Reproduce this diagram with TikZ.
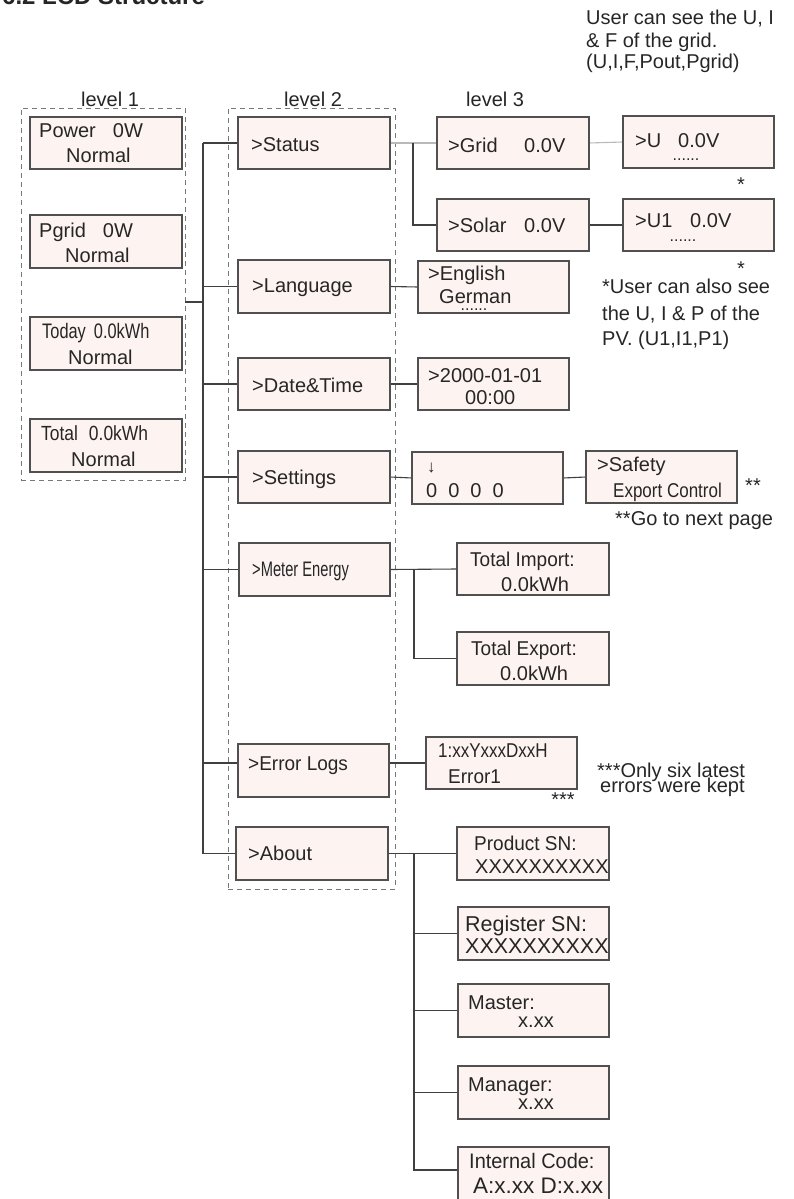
\documentclass[tikz,border=0pt]{standalone}
\usepackage{fontspec}
\setmainfont{Liberation Sans}
\newfontfamily\condA[FakeStretch=0.85]{Liberation Sans}
\newfontfamily\condB[FakeStretch=0.70]{Liberation Sans}
\newfontfamily\condC[FakeStretch=0.95]{Liberation Sans}
\newfontfamily\condD[FakeStretch=0.78]{Liberation Sans}
\newcommand\myfs[1]{\fontsize{#1}{#1}\selectfont}
\definecolor{boxfill}{RGB}{253,244,241}
\definecolor{boxline}{RGB}{80,80,80}
\definecolor{connc}{RGB}{64,64,64}
\definecolor{connl}{RGB}{185,185,185}
\definecolor{dashc}{RGB}{120,120,120}
\definecolor{txtc}{RGB}{38,38,38}
\begin{document}
\begin{tikzpicture}[x=1pt,y=-1pt,
  box/.style={draw=boxline,fill=boxfill,line width=1.3pt,inner sep=0pt,outer sep=0pt,anchor=north west,minimum width=152pt,minimum height=52pt},
  lvbox/.style={draw=dashc,line width=0.9pt,dash pattern=on 5pt off 4pt,inner sep=0pt,outer sep=0pt,anchor=north west},
  conn/.style={draw=connc,line width=1.1pt},
  connlight/.style={draw=connl,line width=1.1pt},
  txt/.style={anchor=base west,inner sep=0pt,text=txtc,font=\myfs{20}},
  ctxt/.style={anchor=base,inner sep=0pt,text=txtc,font=\myfs{20}}]
\useasboundingbox (0,0) rectangle (793,1199);
\clip (0,0) rectangle (793,1199);

% title
\node[txt,font=\bfseries\myfs{24}] (title) at (2,5) {6.2 LCD Structure};

% level frames
\node[lvbox,minimum width=164pt,minimum height=372pt] (lv1) at (21,108) {};
\node[lvbox,minimum width=167pt,minimum height=781pt] (lv2) at (228,108) {};
\node[ctxt] (lab1) at (110,106) {level 1};
\node[ctxt] (lab2) at (313,106) {level 2};
\node[txt] (lab3) at (466,106) {level 3};

% level 1 boxes
\node[box] (power) at (30,117) {};
\node[box,minimum height=53pt] (pgrid) at (30,215) {};
\node[box,minimum height=53pt] (today) at (30,317) {};
\node[box,minimum height=53pt] (total) at (30,419) {};

% level 2 boxes
\node[box] (status) at (238,117) {};
\node[box,minimum height=53pt] (language) at (238,260) {};
\node[box] (datetime) at (238,358) {};
\node[box] (settings) at (238,451) {};
\node[box,minimum width=151pt,minimum height=53pt] (meter) at (239,543) {};
\node[box,minimum width=151pt,minimum height=53pt] (errlogs) at (238,744) {};
\node[box,minimum height=53pt] (about) at (236,827) {};

% level 3 boxes
\node[box] (grid) at (437,117) {};
\node[box] (solar) at (437,199) {};
\node[box,minimum width=151pt] (ubox) at (623,116) {};
\node[box,minimum width=151pt] (uonebox) at (623,199) {};
\node[box,minimum width=151pt] (english) at (418,261) {};
\node[box,minimum width=151pt] (datebox) at (418,358) {};
\node[box,minimum width=151pt] (pinbox) at (412,452) {};
\node[box,minimum width=151pt] (safety) at (586,451) {};
\node[box] (timport) at (457,543) {};
\node[box,minimum height=53pt] (texport) at (457,632) {};
\node[box,minimum width=151pt] (errbox) at (426,737) {};
\node[box,minimum height=53pt] (prodsn) at (457,827) {};
\node[box,minimum width=151pt,minimum height=53pt] (regsn) at (458,907) {};
\node[box,minimum width=151pt,minimum height=53pt] (master) at (458,984) {};
\node[box,minimum width=151pt,minimum height=53pt] (manager) at (458,1066) {};
\node[box,minimum width=151pt,minimum height=60pt] (intcode) at (458,1147) {};

% connectors
\coordinate (tr) at (203,0);
\coordinate (lonej) at (203,302);
\draw[conn] (lv1.east |- lonej) -- (lonej);
\draw[conn] (tr |- status.west) -- (tr |- about.west);
\draw[conn] (tr |- status.west) -- (status.west);
\draw[conn] (tr |- language.west) -- (language.west);
\draw[conn] (tr |- datetime.west) -- (datetime.west);
\draw[conn] (tr |- settings.west) -- (settings.west);
\draw[conn] (tr |- meter.west) -- (meter.west);
\draw[conn] (tr |- errbox.west) -- (errbox.west -| errlogs.west);
\draw[conn] (tr |- about.west) -- (about.west);

\coordinate (bone) at (413,0);
\coordinate (btwo) at (414,0);
\draw[connlight] (status.east) -- (grid.west);
\draw[conn] (bone |- grid.west) |- (solar.west);
\draw[connlight] (grid.east) -- (ubox.west);
\draw[conn] (solar.east) -- (uonebox.west);
\draw[conn] (language.east) -- (english.west);
\draw[conn] (datetime.east) -- (datebox.west);
\draw[conn] (settings.east) -- (pinbox.west);
\draw[conn] (pinbox.east) -- (safety.west);
\draw[conn] (meter.east) -- (timport.west);
\draw[conn] (btwo |- timport.west) |- (texport.west);
\draw[conn] (errbox.west -| errlogs.east) -- (errbox.west);
\draw[conn] (about.east) -- (prodsn.west);
\draw[conn] (btwo |- prodsn.west) |- ([yshift=7pt]intcode.west);
\draw[conn] (btwo |- regsn.west) -- (regsn.west);
\draw[conn] (btwo |- master.west) -- (master.west);
\draw[conn] (btwo |- manager.west) -- (manager.west);

% redraw box outlines over connector ends
\foreach \b in {power,pgrid,today,total,status,language,datetime,settings,meter,errlogs,about,grid,solar,ubox,uonebox,english,datebox,pinbox,safety,timport,texport,errbox,prodsn,regsn,master,manager,intcode}
  \draw[boxline,line width=1.3pt] (\b.north west) rectangle (\b.south east);

% level 1 texts
\node[txt] (tpw) at (39,137) {Power\hspace{17pt}0W};
\node[txt] (tpwn) at (66,162) {Normal};
\node[txt] (tpg) at (39,237) {Pgrid\hspace{17pt}0W};
\node[txt] (tpgn) at (65,262) {Normal};
\node[txt,font=\condD\myfs{21}] (ttd) at (42,338) {Today\hspace{8pt}0.0kWh};
\node[txt] (ttdn) at (68,364) {Normal};
\node[txt,font=\condA\myfs{20.5}] (ttt) at (41,440) {Total\hspace{11pt}0.0kWh};
\node[txt] (tttn) at (71,466) {Normal};

% level 2 texts
\node[txt] (tst) at (251,151) {>Status};
\node[txt] (tla) at (252,292) {>Language};
\node[txt] (tdt) at (252,392) {>Date\&Time};
\node[txt] (tse) at (252,484) {>Settings};
\node[txt,font=\condB\myfs{21}] (tme) at (252,576) {>Meter Energy};
\node[txt,font=\condC\myfs{20}] (ter) at (248,770) {>Error Logs};
\node[txt] (tab) at (248,860) {>About};

% level 3 texts
\node[txt] (tgr) at (448,152) {>Grid};
\node[txt] (tgrv) at (524,152) {0.0V};
\node[txt] (tso) at (448,232) {>Solar};
\node[txt] (tsov) at (524,232) {0.0V};
\node[txt] (tu) at (635,147) {>U};
\node[txt] (tuv) at (678,147) {0.0V};
\node[ctxt,font=\myfs{16}] (tud) at (686,160) {......};
\node[txt] (tuo) at (635,227) {>U1};
\node[txt] (tuov) at (690,227) {0.0V};
\node[ctxt,font=\myfs{16}] (tuod) at (683,241) {......};
\node[ctxt] (star1) at (741,191) {*};
\node[ctxt] (star2) at (741,275) {*};

\node[txt] (nt1) at (586,25) {User can see the U, I};
\node[txt] (nt2) at (586,48) {\& F of the grid.};
\node[txt] (nt3) at (586,68) {(U,I,F,Pout,Pgrid)};

\node[txt] (ten) at (428,280) {>English};
\node[txt] (tge) at (439,303) {German};
\node[ctxt,font=\myfs{16}] (tged) at (474,310) {......};

\node[txt] (ns1) at (602,293) {*User can also see};
\node[txt] (ns2) at (602,320) {the U, I \& P of the};
\node[txt] (ns3) at (602,345) {PV. (U1,I1,P1)};

\node[txt] (tdate) at (428,382) {>2000-01-01};
\node[txt] (ttime) at (465,404) {00:00};

\node[txt,font=\myfs{17}] (tarr) at (427,472) {↓};
\node[txt] (tpin) at (426,497) {0\hspace{11pt}0\hspace{11pt}0\hspace{11pt}0};

\node[txt] (tsaf) at (597,471) {>Safety};
\node[txt,font=\condA\myfs{20}] (texc) at (613,497) {Export Control};
\node[ctxt] (star3) at (753,492) {**};
\node[txt] (tnext) at (615,525) {**Go to next page};

\node[txt,font=\condC\myfs{20}] (tti) at (470,566) {Total Import:};
\node[txt] (ttiv) at (501,591) {0.0kWh};
\node[txt,font=\condC\myfs{20}] (tte) at (471,655) {Total Export:};
\node[txt] (ttev) at (500,680) {0.0kWh};

\node[txt,font=\condA\myfs{20}] (terr) at (438,757) {1:xxYxxxDxxH};
\node[txt,font=\condC\myfs{20}] (terro) at (448,783) {Error1};
\node[ctxt] (star4) at (563,806) {***};
\node[txt] (nonly) at (597,777) {***Only six latest};
\node[txt] (nerr) at (600,792) {errors were kept};

\node[txt,font=\condC\myfs{20}] (tps) at (474,850) {Product SN:};
\node[txt] (tpsx) at (475,873) {XXXXXXXXXX};
\node[txt,font=\myfs{21.5}] (trs) at (465,931) {Register SN:};
\node[txt,font=\myfs{21.5}] (trsx) at (465,953) {XXXXXXXXXX};
\node[txt] (tma) at (468,1009) {Master:};
\node[txt] (tmav) at (518,1027) {x.xx};
\node[txt] (tmg) at (468,1091) {Manager:};
\node[txt] (tmgv) at (518,1109) {x.xx};
\node[txt,font=\condC\myfs{21}] (tic) at (469,1168) {Internal Code:};
\node[txt,font=\myfs{22.5}] (ticv) at (473,1193) {A:x.xx D:x.xx};
\end{tikzpicture}
\end{document}
